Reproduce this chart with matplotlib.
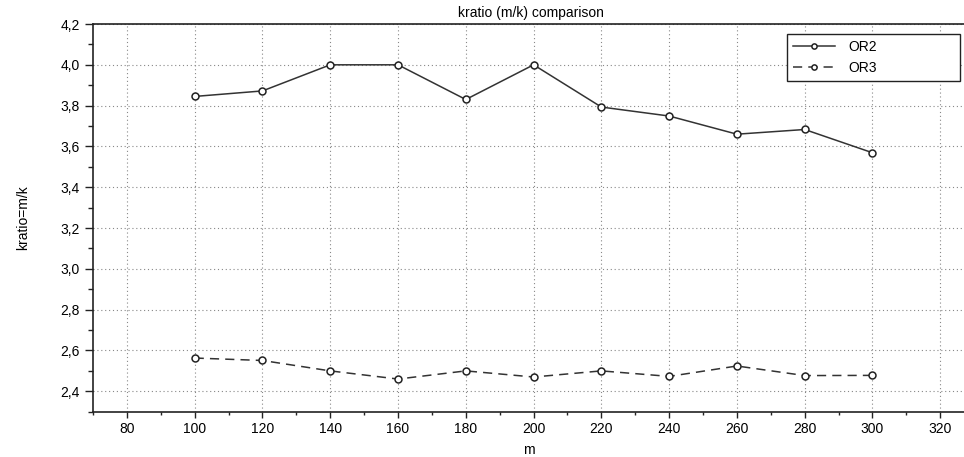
import matplotlib.pyplot as plt
from matplotlib.ticker import MultipleLocator, FuncFormatter

plt.rcParams['font.family'] = ['Liberation Sans', 'DejaVu Sans']

# data
m = [100, 120, 140, 160, 180, 200, 220, 240, 260, 280, 300]
or2 = [3.845, 3.872, 4.0, 4.0, 3.83, 4.0, 3.793, 3.749, 3.66, 3.683, 3.569]
or3 = [2.563, 2.551, 2.50, 2.46, 2.50, 2.47, 2.50, 2.473, 2.524, 2.477, 2.478]

W, H = 964, 457
fig = plt.figure(figsize=(W / 100, H / 100), dpi=100)
ax = fig.add_axes([93 / W, (H - 411.7) / H, (W - 93) / W, (411.7 - 24) / H])

col = '#333333'
ax.plot(m, or2, '-', color=col, lw=1.1, marker='o', ms=5,
        mfc='white', mec='#222222', mew=1.1, label='OR2')
ax.plot(m, or3, color=col, lw=1.1, dashes=(6, 4), marker='o', ms=5,
        mfc='white', mec='#222222', mew=1.1, label='OR3')

ax.set_xlim(70, 327)
ax.set_ylim(2.3, 4.2)
ax.xaxis.set_major_locator(MultipleLocator(20))
ax.xaxis.set_minor_locator(MultipleLocator(10))
ax.yaxis.set_major_locator(MultipleLocator(0.2))
ax.yaxis.set_minor_locator(MultipleLocator(0.1))
ax.yaxis.set_major_formatter(FuncFormatter(lambda v, p: f'{v:.1f}'.replace('.', ',')))

ax.grid(True, which='major', linestyle=(0, (1, 2.5)), color='#888888', lw=0.8)
ax.tick_params(axis='y', which='major', direction='out', length=6, width=1, labelsize=10, color='#222222')
ax.tick_params(axis='x', which='major', direction='out', length=4, width=1, labelsize=10, color='#222222')
ax.tick_params(axis='y', which='minor', direction='out', length=3.5, width=1, color='#222222')
ax.tick_params(axis='x', which='minor', direction='out', length=2.5, width=1, color='#222222')
ax.spines['right'].set_visible(False)
for s in ['left', 'bottom', 'top']:
    ax.spines[s].set_linewidth(1.2)
    ax.spines[s].set_color('#222222')

ax.set_xlabel('m', fontsize=10, labelpad=5)
ax.set_ylabel('kratio=m/k', fontsize=10, labelpad=22)
fig.text(531 / W, 1 - 13 / H, 'kratio (m/k) comparison', ha='center', va='center', fontsize=10)

leg = ax.legend(loc='upper left', mode='expand',
                bbox_to_anchor=(787 / W, 1 - 34 / H, 173 / W, 0), bbox_transform=fig.transFigure,
                fontsize=10, fancybox=False, framealpha=1, edgecolor='#222222', markerscale=0.75,
                handlelength=3.0, borderpad=0.45, labelspacing=0.45, handletextpad=1.0,
                borderaxespad=0)
leg.get_frame().set_linewidth(1.0)

fig.savefig('out.png', dpi=100)
